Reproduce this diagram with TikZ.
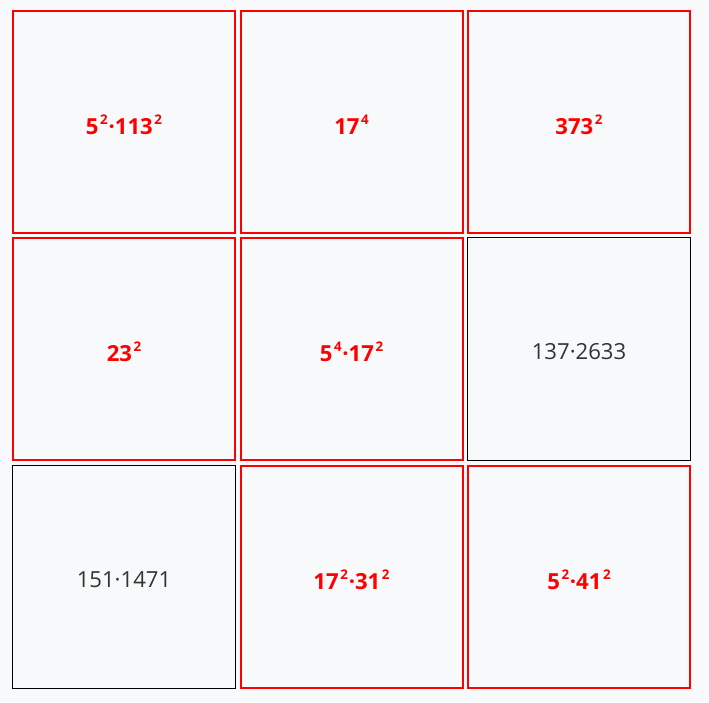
\documentclass[tikz,border=0pt]{standalone}
\usepackage{fontspec}
\setmainfont{Open Sans}
\definecolor{bgc}{HTML}{F8F9FA}
\definecolor{txt}{HTML}{333333}
\definecolor{hl}{HTML}{FF0000}
\newcommand{\sq}[1]{\hspace{1.2pt}\raisebox{0.45em}{\fontsize{10pt}{10pt}\selectfont #1}\hspace{0.6pt}}
\begin{document}
\begin{tikzpicture}[x=0.75pt,y=-0.75pt,
  cell/.style={draw=black,line width=0.75pt,fill=bgc,minimum width=167.25pt,minimum height=167.25pt,inner sep=0pt},
  hit/.style={cell,draw=hl,line width=1.5pt,minimum width=166.5pt,minimum height=166.5pt},
  lbl/.style={inner sep=0pt,anchor=center},
  hitlbl/.style={lbl,text=hl,font=\fontsize{16.6pt}{18pt}\selectfont\bfseries},
  plainlbl/.style={lbl,text=txt,font=\fontsize{16.6pt}{18pt}\selectfont}]
\fill[bgc] (0,0) rectangle (709,702);
\useasboundingbox (0,0) rectangle (709,702);
\node[hit] (c11) at (124,122) {};
\node[hit] (c12) at (351.5,122) {};
\node[hit] (c13) at (579,122) {};
\node[hit] (c21) at (124,349) {};
\node[hit] (c22) at (351.5,349) {};
\node[cell] (c23) at (579,349) {};
\node[cell] (c31) at (124,577) {};
\node[hit] (c32) at (351.5,577) {};
\node[hit] (c33) at (579,577) {};
\node[hitlbl] (t11) at ([yshift=-2.2pt]c11.center) {5\sq{2}·113\sq{2}};
\node[hitlbl] (t12) at ([yshift=-2.2pt]c12.center) {17\sq{4}};
\node[hitlbl] (t13) at ([yshift=-2.2pt]c13.center) {373\sq{2}};
\node[hitlbl] (t21) at ([yshift=-2.2pt]c21.center) {23\sq{2}};
\node[hitlbl] (t22) at ([yshift=-2.2pt]c22.center) {5\sq{4}·17\sq{2}};
\node[plainlbl] (t23) at ([yshift=-2.2pt]c23.center) {137·2633};
\node[plainlbl] (t31) at ([yshift=-2.2pt]c31.center) {151·1471};
\node[hitlbl] (t32) at ([yshift=-2.2pt]c32.center) {17\sq{2}·31\sq{2}};
\node[hitlbl] (t33) at ([yshift=-2.2pt]c33.center) {5\sq{2}·41\sq{2}};
\end{tikzpicture}
\end{document}
